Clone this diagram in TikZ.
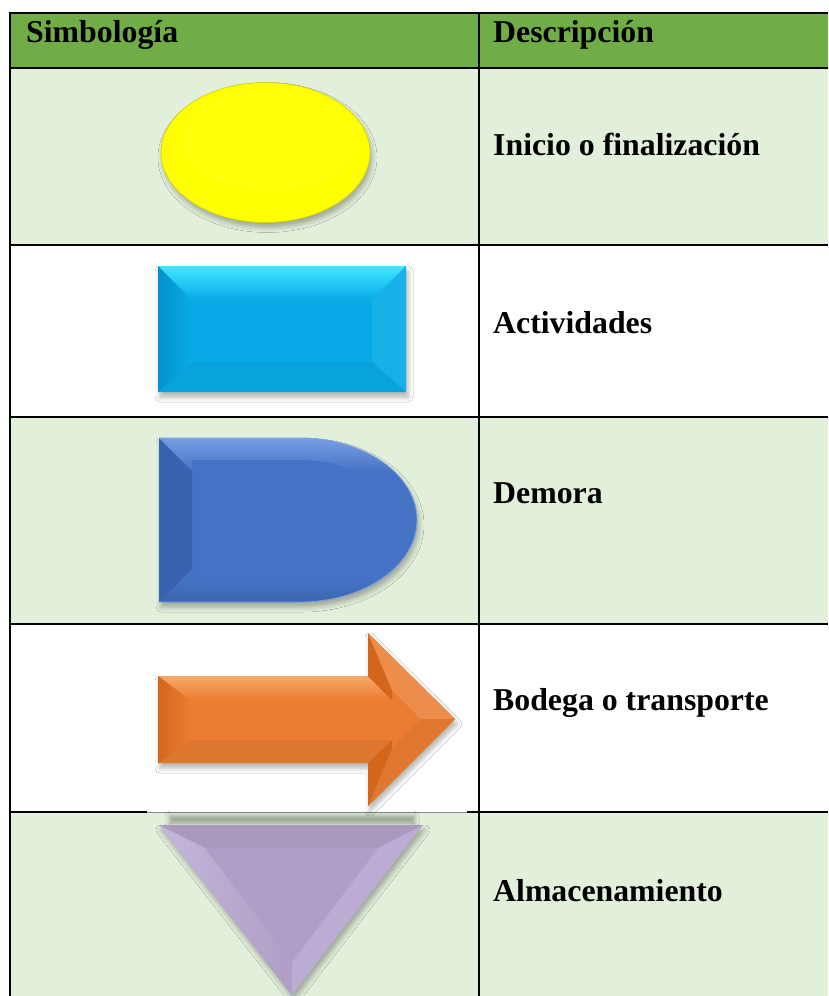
\documentclass[tikz,border=0pt]{standalone}
\usepackage{fontspec}
\setmainfont{Liberation Serif}
\usetikzlibrary{shadows.blur}
\definecolor{hdrgreen}{HTML}{70AD47}
\definecolor{rowgreen}{HTML}{E2EFDA}
\definecolor{ylw}{HTML}{FFFF00}
\definecolor{cyanbase}{HTML}{08ABE7}
\definecolor{cyanlight}{HTML}{3FE6FF}
\definecolor{cyandark}{HTML}{0691CA}
\definecolor{bluebase}{HTML}{4472C4}
\definecolor{bluelight}{HTML}{7AA2E6}
\definecolor{bluedark}{HTML}{3A62B0}
\definecolor{orgbase}{HTML}{EB7D32}
\definecolor{orglight}{HTML}{F7A868}
\definecolor{orgdark}{HTML}{D4661C}
\definecolor{lavbase}{HTML}{AF9EC5}
\definecolor{lavlight}{HTML}{C4B6DC}
\begin{document}
\begin{tikzpicture}[x=1pt,y=-1pt,
  tabletext/.style={font=\fontsize{31.8}{36}\selectfont\bfseries, anchor=base west, inner sep=0pt},
  gridline/.style={line width=2.3pt, black},
  dropshadow/.style={blur shadow={shadow xshift=2pt, shadow yshift=-5pt, shadow blur radius=5pt, shadow opacity=30}}
]
\useasboundingbox (0,0) rectangle (828,996);
\fill[white] (0,0) rectangle (828,996);
% row backgrounds
\fill[hdrgreen] (10,13) rectangle (828,68);
\fill[rowgreen] (10,68) rectangle (828,245);
\fill[rowgreen] (10,417) rectangle (828,624);
\fill[rowgreen] (10,812) rectangle (828,996);
% grid lines
\draw[gridline] (10,13) -- (828,13);
\draw[gridline] (10,68) -- (828,68);
\draw[gridline] (10,245) -- (828,245);
\draw[gridline] (10,417) -- (828,417);
\draw[gridline] (10,624) -- (828,624);
\draw[gridline] (10,812) -- (147,812);
\draw[gridline] (467,812) -- (828,812);
\draw[line width=1pt, black!45] (147,812.3) -- (467,812.3);
\draw[gridline] (10,11.85) -- (10,996);
\draw[gridline] (479,11.85) -- (479,996);

% ellipse (inicio o finalizacion)
\fill[ylw, draw=ylw!82!black, line width=0.6pt, dropshadow] (265.5,152.5) ellipse [x radius=104.5, y radius=70];
\fill[white, opacity=0.04] (270,140) ellipse [x radius=90, y radius=52];

% rectangle (actividades)
\fill[cyanbase, dropshadow] (158,266) rectangle (406,392);
\shade[top color=cyanlight, bottom color=cyanbase] (158,266) -- (406,266) -- (372,300) -- (192,300) -- cycle;
\shade[left color=cyandark, right color=cyanbase] (158,266) -- (192,300) -- (192,362) -- (158,392) -- cycle;
\fill[cyanbase!94!white] (406,266) -- (372,300) -- (372,362) -- (406,392) -- cycle;
\fill[cyanbase!95!black] (158,392) -- (192,362) -- (372,362) -- (406,392) -- cycle;

% delay shape (demora)
\fill[bluebase, dropshadow] (159,438) -- (300,438) .. controls (364.6,438) and (417,474.7) .. (417,520)
  .. controls (417,565.3) and (364.6,602) .. (300,602) -- (159,602) -- cycle;
\begin{scope}
  \clip (159,438) -- (300,438) .. controls (364.6,438) and (417,474.7) .. (417,520)
  .. controls (417,565.3) and (364.6,602) .. (300,602) -- (159,602) -- cycle;
  \shade[top color=bluelight, bottom color=bluebase] (159,436) rectangle (420,472);
  \fill[bluebase] (192,460) -- (300,460) .. controls (350,460) and (394,486) .. (394,520)
  .. controls (394,554) and (350,580) .. (300,580) -- (192,580) -- cycle;
  \shade[top color=bluebase, bottom color=bluebase!88!black] (159,580) rectangle (420,604);
  \fill[bluedark] (159,438) -- (192,471) -- (192,569) -- (159,602) -- cycle;
\end{scope}
\draw[bluelight, line width=0.8pt] (159,438) -- (300,438) .. controls (364.6,438) and (417,474.7) .. (417,520)
  .. controls (417,565.3) and (364.6,602) .. (300,602) -- (159,602);

% arrow (bodega o transporte)
\fill[orgbase, dropshadow] (158,676) -- (368,676) -- (368,633) -- (455,719) -- (368,806) -- (368,763) -- (158,763) -- cycle;
\shade[top color=orglight, bottom color=orgbase] (158,676) -- (368,676) -- (392,700) -- (190,700) -- cycle;
\fill[orgdark] (368,676) -- (368,633) -- (392,690) -- (392,700) -- cycle;
\fill[orgbase!88!white] (368,633) -- (455,719) -- (421,719) -- (392,690) -- cycle;
\fill[orgbase!95!black] (455,719) -- (368,806) -- (392,748) -- (421,719) -- cycle;
\fill[orgdark] (368,806) -- (368,763) -- (392,740) -- (392,748) -- cycle;
\fill[orgbase!94!black] (368,763) -- (158,763) -- (190,740) -- (392,740) -- cycle;
\shade[left color=orgdark, right color=orgbase] (158,763) -- (158,676) -- (190,700) -- (190,740) -- cycle;

% triangle (almacenamiento)
\path[blur shadow={shadow xshift=0pt, shadow yshift=0pt, shadow blur radius=5pt, shadow opacity=35}] (170,816) rectangle (414,823);
\fill[lavbase, dropshadow] (159,825) -- (423,825) -- (292,995) -- cycle;
\fill[lavbase!97!black] (159,825) -- (423,825) -- (378,848) -- (205,848) -- cycle;
\shade[left color=lavlight, right color=lavbase] (159,825) -- (205,848) -- (292,962) -- (292,995) -- cycle;
\fill[lavlight!60!lavbase] (423,825) -- (378,848) -- (292,962) -- (292,995) -- cycle;
\fill[lavbase] (205,848) -- (378,848) -- (292,962) -- cycle;

% texts
\node[tabletext] (h1) at (26,42) {Simbología};
\node[tabletext] (h2) at (493,42) {Descripción};
\node[tabletext] (t1) at (493,155) {Inicio o finalización};
\node[tabletext] (t2) at (493,333) {Actividades};
\node[tabletext] (t3) at (493,503) {Demora};
\node[tabletext] (t4) at (493,710) {Bodega o transporte};
\node[tabletext] (t5) at (493,901) {Almacenamiento};
\end{tikzpicture}
\end{document}
